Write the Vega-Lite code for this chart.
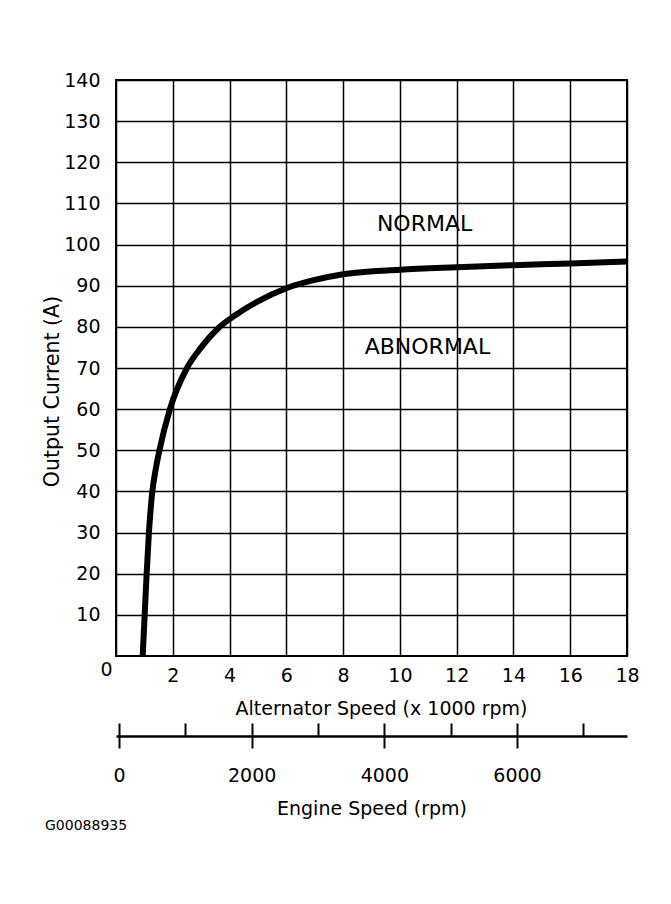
{
  "$schema": "https://vega.github.io/schema/vega-lite/v6.json",
  "description": "Alternator output current vs speed, with engine speed scale.",
  "width": 511,
  "height": 576,
  "autosize": {"type": "none"},
  "padding": {"left": 116, "top": 80, "right": 44, "bottom": 248},
  "background": "white",
  "title": {
    "text": "G00088935",
    "orient": "bottom",
    "anchor": "start",
    "frame": "group",
    "dx": -71,
    "offset": 1,
    "font": "DejaVu Sans",
    "fontSize": 14,
    "fontWeight": "normal",
    "color": "black"
  },
  "layer": [
    {
      "layer": [
        {
          "data": {
            "values": [
              {"speed": 0.94, "current": 0},
              {"speed": 1.01, "current": 10},
              {"speed": 1.08, "current": 20},
              {"speed": 1.16, "current": 30},
              {"speed": 1.28, "current": 40},
              {"speed": 1.39, "current": 45},
              {"speed": 1.53, "current": 50},
              {"speed": 1.9, "current": 60},
              {"speed": 2.5, "current": 70},
              {"speed": 3.0, "current": 75},
              {"speed": 3.62, "current": 79.8},
              {"speed": 4.2, "current": 82.8},
              {"speed": 5.0, "current": 86.2},
              {"speed": 6.0, "current": 89.4},
              {"speed": 7.0, "current": 91.4},
              {"speed": 8.0, "current": 92.8},
              {"speed": 10.0, "current": 93.9},
              {"speed": 12.0, "current": 94.5},
              {"speed": 14.0, "current": 95.0},
              {"speed": 16.0, "current": 95.4},
              {"speed": 18.0, "current": 95.9}
            ]
          },
          "mark": {"type": "line", "interpolate": "monotone", "color": "black", "strokeWidth": 6, "strokeCap": "butt"},
          "encoding": {
            "x": {
              "field": "speed",
              "type": "quantitative",
              "scale": {"domain": [0, 18], "nice": false},
              "axis": {
                "orient": "bottom",
                "title": "Alternator Speed (x 1000 rpm)",
                "titleX": 265,
                "titlePadding": 14,
                "values": [0, 2, 4, 6, 8, 10, 12, 14, 16, 18],
                "grid": true,
                "ticks": false,
                "domain": false,
                "labelFlush": false,
                "labelOverlap": false,
                "labelPadding": {"condition": {"test": "datum.value === 0", "value": 4}, "value": 10},
                "labelOffset": {"condition": {"test": "datum.value === 0", "value": -10}, "value": 0}
              }
            },
            "y": {
              "field": "current",
              "type": "quantitative",
              "scale": {"domain": [0, 140], "nice": false},
              "axis": {
                "title": "Output Current (A)",
                "titleFontSize": 20.5,
                "titleX": -58,
                "titleY": 311,
                "titleAngle": -90,
                "titleBaseline": "alphabetic",
                "values": [10, 20, 30, 40, 50, 60, 70, 80, 90, 100, 110, 120, 130, 140],
                "grid": true,
                "ticks": false,
                "domain": false,
                "labelFlush": false,
                "labelOverlap": false,
                "labelPadding": 16
              }
            }
          }
        },
        {
          "data": {
            "values": [
              {"x": 10.87, "y": 105, "label": "NORMAL"},
              {"x": 10.97, "y": 75.1, "label": "ABNORMAL"}
            ]
          },
          "mark": {"type": "text", "font": "DejaVu Sans", "fontSize": 22, "color": "black", "align": "center", "baseline": "middle"},
          "encoding": {
            "x": {"field": "x", "type": "quantitative"},
            "y": {"field": "y", "type": "quantitative"},
            "text": {"field": "label"}
          }
        }
      ]
    },
    {
      "data": {"values": [{"rpm": 0}, {"rpm": 7000}]},
      "layer": [
        {
          "mark": {"type": "point", "opacity": 0},
          "encoding": {
            "x": {
              "field": "rpm",
              "type": "quantitative",
              "scale": {"domain": [-45, 7659], "nice": false, "zero": false},
              "axis": {
                "orient": "bottom",
                "offset": 80,
                "values": [0, 1000, 2000, 3000, 4000, 5000, 6000, 7000],
                "tickSize": -13,
                "tickWidth": 2,
                "domainWidth": 2.5,
                "labels": false,
                "grid": false,
                "title": null
              }
            }
          }
        },
        {
          "mark": {"type": "point", "opacity": 0},
          "encoding": {
            "x": {
              "field": "rpm",
              "type": "quantitative",
              "axis": {
                "orient": "bottom",
                "offset": 80,
                "values": [0, 2000, 4000, 6000],
                "format": "d",
                "tickSize": 12,
                "tickWidth": 2,
                "domain": false,
                "grid": false,
                "labelPadding": 18,
                "labelFlush": false,
                "labelOverlap": false,
                "title": "Engine Speed (rpm)",
                "titlePadding": 14
              }
            }
          }
        }
      ],
      "resolve": {"axis": {"x": "independent"}}
    }
  ],
  "resolve": {"scale": {"x": "independent"}},
  "config": {
    "font": "DejaVu Sans",
    "view": {"stroke": "black", "strokeWidth": 2},
    "axis": {
      "labelFont": "DejaVu Sans",
      "titleFont": "DejaVu Sans",
      "labelFontSize": 19,
      "titleFontSize": 19,
      "titleFontWeight": "normal",
      "labelColor": "black",
      "titleColor": "black",
      "gridColor": "black",
      "gridOpacity": 1,
      "gridWidth": 1.5,
      "domainColor": "black",
      "tickColor": "black"
    }
  }
}
